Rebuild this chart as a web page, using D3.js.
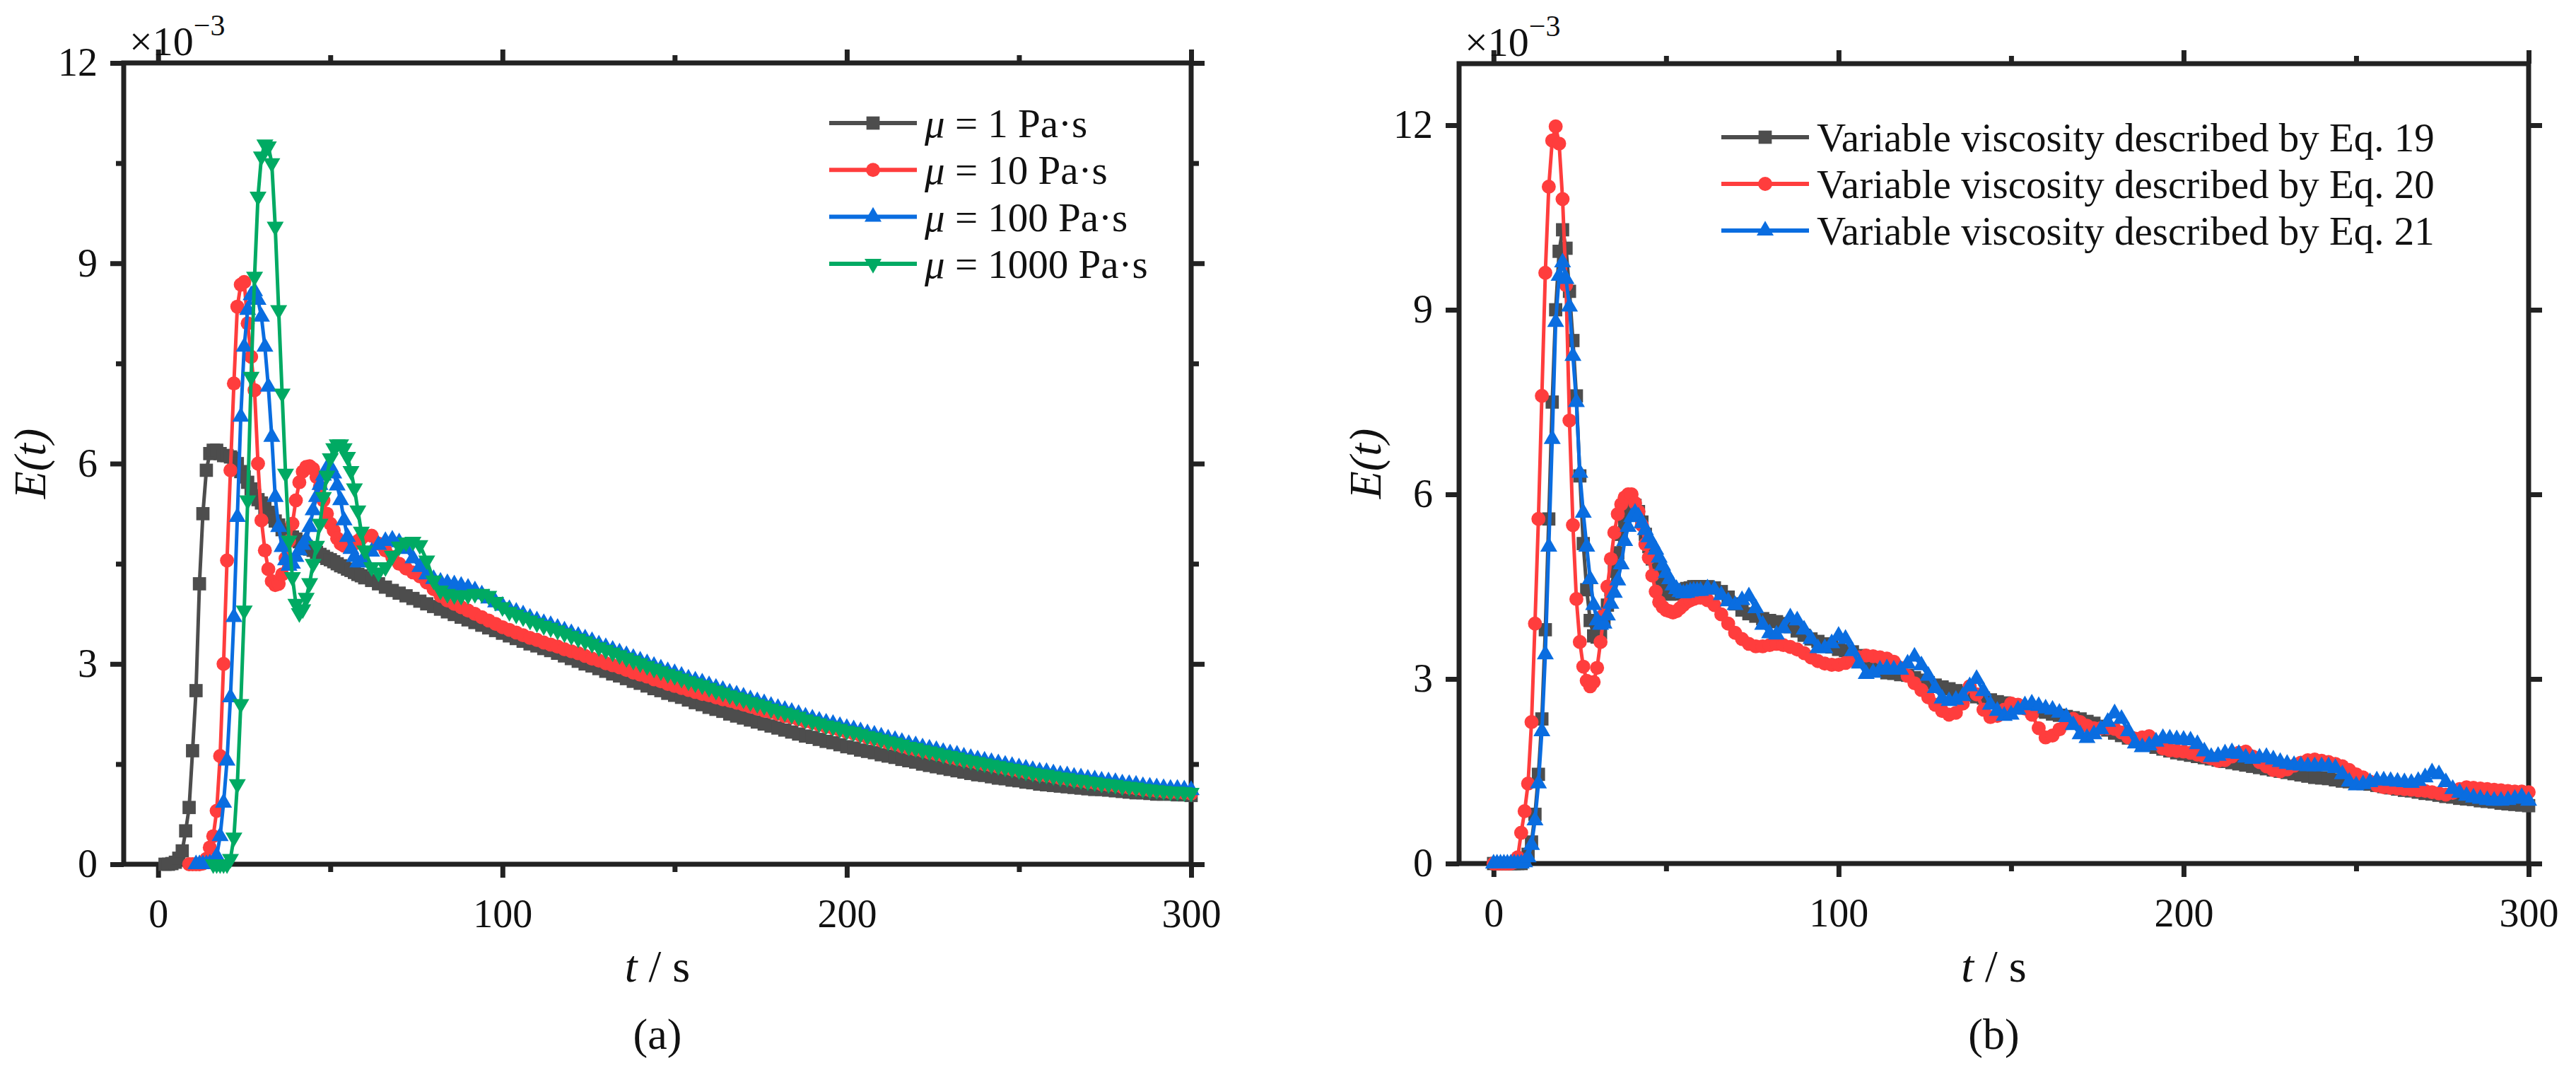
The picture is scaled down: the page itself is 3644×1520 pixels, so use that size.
<!DOCTYPE html>
<html>
<head>
<meta charset="utf-8">
<script src="https://cdn.jsdelivr.net/npm/d3@7"></script>
<style>
body { margin: 0; background: #fff; }
svg text { font-family: "Liberation Serif", "Times New Roman", serif; fill: #111; }
</style>
</head>
<body>
<svg></svg>
<script>
const width = 3644;
const height = 1520;
const svg = d3.select("svg").attr("width", width).attr("height", height);

// sample times (s): 1 s up to 60, then 2 s
const timeSec = [
	0,1,2,3,4,5,6,7,8,9,10,11,12,13,14,15,16,17,18,19,20,21,22,23,24,25,26,27,28,29,
	30,31,32,33,34,35,36,37,38,39,40,41,42,43,44,45,46,47,48,49,50,51,52,53,54,55,56,57,58,59,60,
	62,64,66,68,70,72,74,76,78,80,82,84,86,88,90,92,94,96,98,100,
	102,104,106,108,110,112,114,116,118,120,122,124,126,128,130,132,134,136,138,140,
	142,144,146,148,150,152,154,156,158,160,162,164,166,168,170,172,174,176,178,180,
	182,184,186,188,190,192,194,196,198,200,202,204,206,208,210,212,214,216,218,220,
	222,224,226,228,230,232,234,236,238,240,242,244,246,248,250,252,254,256,258,260,
	262,264,266,268,270,272,274,276,278,280,282,284,286,288,290,292,294,296,298,300
];

const xTicks = [0, 100, 200, 300];
const xMinorTicks = [50, 150, 250];
const yTicks = [0, 3, 6, 9, 12];
const yMinorTicksA = [1.5, 4.5, 7.5, 10.5];

// panel (a), E(t) x 1e-3
const mu1 = [
	null,null,0,0,0.01,0.03,0.09,0.2,0.5,0.85,
	1.7,2.6,4.2,5.25,5.9,6.15,6.2,6.2,6.15,6.12,
	6.12,6.1,6.08,6.0,5.88,5.8,5.72,5.62,5.52,5.46,
	5.41,5.34,5.27,5.2,5.14,5.08,5.01,4.98,4.94,4.9,
	4.87,4.83,4.8,4.76,4.72,4.7,4.67,4.64,4.61,4.58,
	4.56,4.53,4.5,4.47,4.45,4.42,4.4,4.37,4.34,4.32,
	4.29,
	4.25,4.2,4.15,4.1,4.06,4.02,3.98,3.94,3.9,3.86,3.82,3.78,3.74,3.7,3.66,3.62,3.58,3.54,3.5,3.46,
	3.42,3.38,3.34,3.3,3.27,3.23,3.2,3.16,3.12,3.08,
	3.04,3.0,2.97,2.93,2.89,2.85,2.82,2.78,2.74,2.71,
	2.67,2.63,2.6,2.56,2.53,2.5,2.46,2.42,2.39,2.35,
	2.32,2.29,2.25,2.22,2.19,2.16,2.13,2.1,2.07,2.04,
	2.01,1.98,1.95,1.92,1.9,1.87,1.84,1.82,1.79,1.76,
	1.74,1.71,1.69,1.67,1.64,1.62,1.6,1.57,1.55,1.53,
	1.5,1.48,1.46,1.44,1.42,1.4,1.38,1.36,1.34,1.33,
	1.31,1.29,1.28,1.26,1.25,1.23,1.22,1.2,1.19,1.18,
	1.17,1.16,1.15,1.14,1.13,1.12,1.12,1.11,1.1,1.09,
	1.08,1.07,1.07,1.06,1.05,1.05,1.05,1.04,1.04,1.03
];
const mu10 = [
	null,null,null,null,null,null,null,null,null,0,
	0,0,0,0.01,0.08,0.25,0.42,0.8,1.62,3.0,
	4.55,5.9,7.2,8.35,8.68,8.72,8.1,7.6,7.1,6.0,
	5.15,4.7,4.42,4.24,4.18,4.2,4.34,4.58,4.84,5.1,
	5.45,5.72,5.88,5.95,5.96,5.92,5.8,5.65,5.45,5.25,
	5.1,5.0,4.88,4.8,4.77,4.76,4.77,4.8,4.84,4.88,
	4.92,
	4.92,4.8,4.7,4.6,4.5,4.43,4.37,4.31,4.22,4.12,4.02,3.95,3.9,3.85,3.8,3.75,3.7,3.65,3.6,3.55,
	3.51,3.47,3.43,3.39,3.36,3.32,3.29,3.26,3.22,3.19,
	3.16,3.12,3.08,3.05,3.01,2.98,2.95,2.91,2.87,2.84,
	2.81,2.77,2.74,2.7,2.67,2.64,2.61,2.58,2.55,2.53,
	2.5,2.47,2.45,2.42,2.39,2.36,2.33,2.3,2.28,2.25,
	2.22,2.2,2.17,2.14,2.12,2.09,2.06,2.04,2.01,1.98,
	1.96,1.93,1.9,1.88,1.85,1.82,1.8,1.77,1.74,1.72,
	1.7,1.67,1.65,1.63,1.6,1.58,1.56,1.54,1.52,1.5,
	1.48,1.46,1.44,1.42,1.4,1.38,1.36,1.34,1.33,1.31,
	1.29,1.28,1.26,1.25,1.23,1.22,1.2,1.19,1.18,1.16,
	1.15,1.14,1.12,1.11,1.1,1.09,1.08,1.08,1.07,1.06
];
const mu100 = [
	null,null,null,null,null,null,null,null,null,null,
	null,0,0,0,0,0.01,0.03,0.12,0.42,0.92,
	1.55,2.5,3.7,5.2,6.7,7.75,8.3,8.52,8.58,8.45,
	8.2,7.75,7.15,6.4,5.5,5.05,4.75,4.55,4.47,4.5,
	4.6,4.7,4.78,4.86,5.05,5.3,5.5,5.68,5.82,5.93,
	5.95,5.85,5.67,5.45,5.15,4.9,4.72,4.6,4.52,4.52,
	4.56,
	4.68,4.78,4.84,4.86,4.82,4.72,4.58,4.45,4.34,4.27,4.23,4.21,4.19,4.17,4.14,4.1,4.04,3.98,3.92,3.87,
	3.82,3.78,3.74,3.69,3.65,3.61,3.58,3.54,3.5,3.46,
	3.42,3.38,3.34,3.29,3.25,3.21,3.17,3.13,3.09,3.05,
	3.01,2.97,2.93,2.89,2.86,2.82,2.78,2.75,2.72,2.68,
	2.64,2.61,2.57,2.54,2.51,2.47,2.44,2.41,2.37,2.34,
	2.31,2.28,2.25,2.21,2.18,2.15,2.12,2.1,2.07,2.04,
	2.02,1.99,1.96,1.94,1.91,1.88,1.86,1.83,1.8,1.78,
	1.75,1.73,1.71,1.68,1.66,1.64,1.61,1.59,1.57,1.55,
	1.53,1.51,1.49,1.47,1.45,1.43,1.41,1.39,1.38,1.36,
	1.34,1.33,1.31,1.3,1.28,1.27,1.25,1.24,1.23,1.21,
	1.2,1.19,1.17,1.16,1.15,1.14,1.13,1.13,1.12,1.11
];
const mu1000 = [
	null,null,null,null,null,null,null,null,null,null,
	null,null,null,null,null,null,0,0,0,0,
	0,0.08,0.4,1.2,2.4,3.8,5.45,7.3,8.8,10.0,
	10.6,10.78,10.75,10.5,9.55,8.3,7.05,5.85,4.85,4.3,
	3.9,3.76,3.82,3.99,4.21,4.5,4.77,5.1,5.5,5.82,
	6.08,6.23,6.29,6.29,6.23,6.1,5.89,5.63,5.3,4.98,
	4.7,
	4.45,4.37,4.45,4.62,4.76,4.82,4.83,4.78,4.55,4.25,4.1,4.05,4.03,4.02,4.03,4.05,4.05,4.02,3.93,3.85,
	3.78,3.74,3.7,3.65,3.61,3.57,3.54,3.5,3.46,3.42,
	3.38,3.34,3.3,3.25,3.21,3.17,3.13,3.09,3.05,3.01,
	2.97,2.93,2.89,2.85,2.82,2.78,2.74,2.71,2.68,2.64,
	2.6,2.57,2.53,2.5,2.47,2.43,2.4,2.37,2.33,2.3,
	2.27,2.24,2.21,2.17,2.14,2.11,2.08,2.06,2.03,2.0,
	1.98,1.95,1.92,1.9,1.87,1.84,1.82,1.79,1.76,1.74,
	1.71,1.69,1.67,1.64,1.62,1.6,1.57,1.55,1.53,1.51,
	1.49,1.47,1.45,1.43,1.41,1.39,1.37,1.35,1.34,1.32,
	1.3,1.29,1.27,1.26,1.24,1.23,1.21,1.2,1.19,1.17,
	1.16,1.15,1.13,1.12,1.11,1.1,1.09,1.09,1.08,1.07
];

// panel (b), E(t) x 1e-3
const eq19 = [
	0,0,0,0,0,0,0,0,0,0.05,
	0.15,0.35,0.8,1.45,2.35,3.8,5.6,7.5,9.0,9.95,
	10.3,10.0,9.3,8.5,7.6,6.3,5.2,4.45,3.95,3.7,
	3.68,3.75,3.95,4.2,4.45,4.75,5.05,5.35,5.55,5.72,
	5.8,5.82,5.72,5.55,5.35,5.15,4.95,4.78,4.62,4.5,
	4.42,4.38,4.38,4.4,4.42,4.45,4.47,4.48,4.5,4.5,
	4.5,
	4.5,4.48,4.42,4.33,4.22,4.12,4.06,4.02,3.98,3.95,3.93,3.9,3.85,3.78,3.71,3.65,3.61,3.57,3.52,3.48,
	3.46,3.44,3.38,3.3,3.2,3.13,3.1,3.09,3.07,3.06,
	3.02,2.98,2.94,2.9,2.87,2.84,2.81,2.78,2.74,2.71,
	2.69,2.66,2.63,2.61,2.58,2.56,2.53,2.51,2.48,2.46,
	2.43,2.41,2.39,2.37,2.35,2.31,2.28,2.23,2.17,2.12,
	2.08,2.04,2.0,1.97,1.93,1.89,1.86,1.83,1.8,1.78,
	1.76,1.74,1.72,1.7,1.68,1.66,1.64,1.62,1.6,1.58,
	1.56,1.54,1.52,1.5,1.48,1.46,1.44,1.42,1.4,1.39,
	1.38,1.36,1.34,1.33,1.31,1.3,1.29,1.27,1.25,1.23,
	1.21,1.19,1.18,1.16,1.14,1.13,1.11,1.09,1.08,1.06,
	1.05,1.04,1.02,1.01,1.0,0.98,0.97,0.96,0.95,0.94
];
const eq20 = [
	0,0,0,0,0,0,0.02,0.1,0.5,0.85,
	1.3,2.3,3.9,5.6,7.6,9.6,11.0,11.75,11.98,11.7,
	10.8,9.4,7.2,5.5,4.3,3.6,3.2,2.97,2.88,2.95,
	3.18,3.6,4.05,4.5,4.95,5.38,5.68,5.84,5.95,6.0,
	6.0,5.86,5.72,5.5,5.19,4.97,4.68,4.42,4.25,4.17,
	4.12,4.1,4.08,4.1,4.15,4.2,4.25,4.28,4.3,4.32,
	4.32,
	4.28,4.2,4.05,3.9,3.75,3.65,3.57,3.53,3.53,3.55,3.57,3.55,3.52,3.48,3.42,3.35,3.29,3.25,3.23,3.23,
	3.26,3.3,3.35,3.38,3.37,3.35,3.33,3.28,3.18,3.05,
	2.93,2.82,2.7,2.58,2.48,2.42,2.45,2.6,2.88,2.75,
	2.5,2.38,2.4,2.5,2.6,2.58,2.52,2.42,2.2,2.05,
	2.08,2.18,2.28,2.35,2.3,2.24,2.2,2.2,2.2,2.19,
	2.13,2.05,2.03,2.05,2.07,1.97,1.87,1.84,1.83,1.82,
	1.8,1.77,1.74,1.71,1.67,1.68,1.74,1.8,1.82,1.74,
	1.65,1.58,1.52,1.5,1.53,1.59,1.64,1.68,1.69,1.67,
	1.65,1.62,1.58,1.52,1.45,1.4,1.33,1.27,1.24,1.23,
	1.22,1.21,1.2,1.19,1.18,1.16,1.14,1.12,1.15,1.21,
	1.24,1.23,1.22,1.21,1.2,1.19,1.18,1.17,1.17,1.16
];
const eq21 = [
	0,0,0,0,0,0,0,0,0,0.02,
	0.1,0.3,0.7,1.3,2.15,3.4,5.15,6.9,8.8,9.55,
	9.77,9.5,9.05,8.25,7.5,6.35,5.7,5.15,4.62,4.2,
	3.95,3.88,3.9,4.03,4.22,4.4,4.6,4.86,5.24,5.47,
	5.63,5.7,5.64,5.53,5.42,5.3,5.2,5.1,4.97,4.84,
	4.72,4.62,4.52,4.46,4.41,4.39,4.4,4.42,4.43,4.43,
	4.43,
	4.47,4.45,4.36,4.26,4.2,4.28,4.34,4.15,3.88,3.74,3.72,3.82,4.0,3.95,3.8,3.65,3.5,3.5,3.58,3.7,
	3.65,3.45,3.25,3.08,3.1,3.15,3.17,3.15,3.15,3.25,
	3.36,3.22,3.05,2.85,2.68,2.64,2.66,2.72,2.88,3.0,
	2.8,2.58,2.48,2.4,2.42,2.5,2.57,2.6,2.56,2.52,
	2.5,2.45,2.38,2.25,2.1,2.04,2.1,2.18,2.3,2.44,
	2.35,2.15,1.95,1.89,1.92,1.98,2.04,2.03,2.02,2.01,
	2.0,1.94,1.82,1.73,1.75,1.79,1.81,1.78,1.72,1.7,
	1.72,1.73,1.69,1.65,1.62,1.6,1.59,1.58,1.58,1.58,
	1.58,1.55,1.45,1.33,1.27,1.29,1.32,1.35,1.35,1.34,
	1.33,1.32,1.31,1.34,1.4,1.48,1.45,1.32,1.21,1.15,
	1.1,1.07,1.05,1.03,1.02,1.02,1.03,1.05,1.08,1.02
];

const viscosityLabels = ["1 Pa·s", "10 Pa·s", "100 Pa·s", "1000 Pa·s"];
const equationLabels = [
	"Variable viscosity described by Eq. 19",
	"Variable viscosity described by Eq. 20",
	"Variable viscosity described by Eq. 21"
];

const gray = "#4d4d4d", red = "#ff3d3d", blue = "#0a6de0", green = "#00aa63";
const square = d3.symbol(d3.symbolSquare, 350)();
const circle = d3.symbol(d3.symbolCircle, 310)();
const triangle = d3.symbol(d3.symbolTriangle, 250)();

function styleAxis(sel) {
	sel.select(".domain").remove();
	sel.selectAll(".tick line").attr("stroke", "#222").attr("stroke-width", 7);
	sel.selectAll(".tick text").style("font-size", "56px").attr("fill", "#111");
}

function drawPanel(p) {
	const x = d3.scaleLinear().domain([-10, 300]).range([p.left, p.right]);
	const y = d3.scaleLinear().domain([0, p.yMax]).range([p.bottom, p.top]);
	const g = svg.append("g");

	g.append("g").attr("transform", `translate(0,${p.bottom})`)
	.call(d3.axisBottom(x).tickValues(xTicks).tickSize(19).tickSizeOuter(0).tickPadding(30).tickFormat(d3.format("d")))
	.call(styleAxis);
	g.append("g").attr("transform", `translate(0,${p.bottom})`)
	.call(d3.axisBottom(x).tickValues(xMinorTicks).tickSize(11).tickSizeOuter(0).tickFormat(""))
	.call(styleAxis);
	g.append("g").attr("transform", `translate(0,${p.top})`)
	.call(d3.axisTop(x).tickValues(xTicks).tickSize(19).tickSizeOuter(0).tickFormat(""))
	.call(styleAxis);
	g.append("g").attr("transform", `translate(0,${p.top})`)
	.call(d3.axisTop(x).tickValues(xMinorTicks).tickSize(11).tickSizeOuter(0).tickFormat(""))
	.call(styleAxis);

	g.append("g").attr("transform", `translate(${p.left},0)`)
	.call(d3.axisLeft(y).tickValues(yTicks).tickSize(19).tickSizeOuter(0).tickPadding(18).tickFormat(d3.format("d")))
	.call(styleAxis);
	g.append("g").attr("transform", `translate(${p.right},0)`)
	.call(d3.axisRight(y).tickValues(yTicks).tickSize(19).tickSizeOuter(0).tickFormat(""))
	.call(styleAxis);
	if (p.yMinor) {
		g.append("g").attr("transform", `translate(${p.left},0)`)
		.call(d3.axisLeft(y).tickValues(p.yMinor).tickSize(11).tickSizeOuter(0).tickFormat(""))
		.call(styleAxis);
		g.append("g").attr("transform", `translate(${p.right},0)`)
		.call(d3.axisRight(y).tickValues(p.yMinor).tickSize(11).tickSizeOuter(0).tickFormat(""))
		.call(styleAxis);
	}

	g.append("rect")
	.attr("x", p.left).attr("y", p.top)
	.attr("width", p.right - p.left).attr("height", p.bottom - p.top)
	.attr("fill", "none").attr("stroke", "#222").attr("stroke-width", 7);

	const line = d3.line()
	.defined(d => d.v !== null)
	.x(d => x(d.t))
	.y(d => y(d.v));

	p.series.forEach(s => {
		const pts = timeSec.map((t, i) => ({ t: t, v: s.values[i] }));
		g.append("path")
		.attr("d", line(pts))
		.attr("fill", "none")
		.attr("stroke", s.color)
		.attr("stroke-width", 5)
		.attr("stroke-linejoin", "round");
		g.append("g").selectAll("path")
		.data(pts.filter(d => d.v !== null))
		.join("path")
		.attr("d", s.symbol)
		.attr("transform", d => `translate(${x(d.t)},${y(d.v)})` + (s.flip ? " rotate(180)" : ""))
		.attr("fill", s.color);
	});

	// legend
	p.series.forEach((s, i) => {
		const ly = p.legendY + i * p.legendStep;
		g.append("line")
		.attr("x1", p.legendX).attr("x2", p.legendX + 124)
		.attr("y1", ly).attr("y2", ly)
		.attr("stroke", s.color).attr("stroke-width", 6);
		g.append("path")
		.attr("d", s.symbol)
		.attr("transform", `translate(${p.legendX + 62},${ly})` + (s.flip ? " rotate(180)" : ""))
		.attr("fill", s.color);
		const t = g.append("text")
		.attr("x", p.legendX + 135)
		.attr("y", ly + 20)
		.style("font-size", "57px");
		if (p.mu) {
			t.append("tspan").style("font-style", "italic").text("μ");
			t.append("tspan").text(" = " + s.label);
		} else {
			t.text(s.label);
		}
	});

	// exponent
	const ex = g.append("text")
	.attr("x", p.left + 8)
	.attr("y", p.top - 11)
	.style("font-size", "58px");
	ex.append("tspan").text("×10");
	ex.append("tspan").attr("dy", -28).style("font-size", "42px").text("−3");

	const cx = (p.left + p.right) / 2;
	g.append("text")
	.attr("transform", `translate(${p.left - 133},${(p.top + p.bottom) / 2}) rotate(-90)`)
	.attr("text-anchor", "middle")
	.attr("dominant-baseline", "central")
	.style("font-size", "64px")
	.style("font-style", "italic")
	.text("E(t)");

	const xl = g.append("text")
	.attr("x", cx).attr("y", 1388)
	.attr("text-anchor", "middle")
	.style("font-size", "64px");
	xl.append("tspan").style("font-style", "italic").text("t");
	xl.append("tspan").text(" / s");

	g.append("text")
	.attr("x", cx).attr("y", 1483)
	.attr("text-anchor", "middle")
	.style("font-size", "62px")
	.text(p.caption);
}

drawPanel({
	left: 175, right: 1685, top: 89, bottom: 1222,
	yMax: 12, yMinor: yMinorTicksA, caption: "(a)", mu: true,
	legendX: 1173, legendY: 174, legendStep: 66.3,
	series: [
		{ values: mu1, color: gray, symbol: square, label: viscosityLabels[0] },
		{ values: mu10, color: red, symbol: circle, label: viscosityLabels[1] },
		{ values: mu100, color: blue, symbol: triangle, label: viscosityLabels[2] },
		{ values: mu1000, color: green, symbol: triangle, flip: true, label: viscosityLabels[3] }
	]
});

drawPanel({
	left: 2064, right: 3577, top: 90, bottom: 1221,
	yMax: 13, yMinor: null, caption: "(b)", mu: false,
	legendX: 2435, legendY: 194, legendStep: 66,
	series: [
		{ values: eq19, color: gray, symbol: square, label: equationLabels[0] },
		{ values: eq20, color: red, symbol: circle, label: equationLabels[1] },
		{ values: eq21, color: blue, symbol: triangle, label: equationLabels[2] }
	]
});
</script>
</body>
</html>
